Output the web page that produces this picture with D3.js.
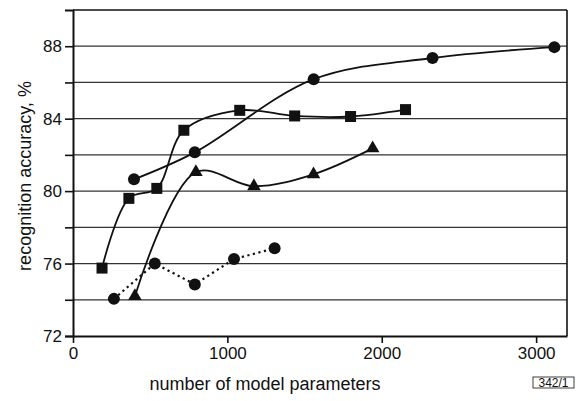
<!DOCTYPE html>
<html>
<head>
<meta charset="utf-8">
<script src="https://cdn.jsdelivr.net/npm/d3@7"></script>
<style>
  body { margin: 0; background: #fff; }
  text { font-family: "Liberation Sans", Arial, sans-serif; fill: #111; }
</style>
</head>
<body>
<div id="chart"></div>
<script>
// Data
const circleX = [395, 789, 1559, 2329, 3118];
const circleY = [80.65, 82.14, 86.18, 87.35, 87.95];

const squareX = [188, 362, 543, 718, 1080, 1436, 1798, 2154];
const squareY = [75.75, 79.6, 80.15, 83.36, 84.46, 84.15, 84.12, 84.5];

const triangleX = [401, 796, 1172, 1558, 1941];
const triangleY = [74.2, 81.05, 80.27, 80.93, 82.36];

const dottedX = [265, 530, 789, 1043, 1306];
const dottedY = [74.05, 76.0, 74.85, 76.25, 76.84];

const xTicks = [0, 1000, 2000, 3000];
const yTicks = [72, 74, 76, 78, 80, 82, 84, 86, 88];
const yLabels = [72, 76, 80, 84, 88];

const W = 578, H = 401;
const margin = { top: 10, right: 11, bottom: 65, left: 73 };
const width = W - margin.left - margin.right;
const height = H - margin.top - margin.bottom;

const svg = d3.select("#chart").append("svg")
  .attr("width", W)
  .attr("height", H);

const g = svg.append("g")
  .attr("transform", `translate(${margin.left},${margin.top})`);

const x = d3.scaleLinear().domain([0, 3200]).range([0, width]);
const y = d3.scaleLinear().domain([72, 90]).range([height, 0]);

// Gridlines
g.selectAll(".grid")
  .data(yTicks.filter(d => d > 72))
  .enter().append("line")
  .attr("x1", 0)
  .attr("x2", width)
  .attr("y1", d => y(d))
  .attr("y2", d => y(d))
  .attr("stroke", "#333")
  .attr("stroke-width", 1.2);

// Frame (top and right)
g.append("line").attr("x1", 0).attr("x2", width).attr("y1", 0).attr("y2", 0)
  .attr("stroke", "#111").attr("stroke-width", 1.6);
g.append("line").attr("x1", width).attr("x2", width).attr("y1", 0).attr("y2", height)
  .attr("stroke", "#111").attr("stroke-width", 1.6);

// Axes
const yAxis = g.append("g")
  .call(d3.axisLeft(y).tickValues(yTicks).tickSize(8)
    .tickFormat(d => yLabels.includes(d) ? d : ""));
yAxis.select(".domain").attr("stroke", "#111").attr("stroke-width", 2);
yAxis.selectAll(".tick line").attr("stroke", "#111").attr("stroke-width", 1.6);
yAxis.selectAll("text").style("font-size", "17px").attr("x", -11);

const xAxis = g.append("g")
  .attr("transform", `translate(0,${height})`)
  .call(d3.axisBottom(x).tickValues(xTicks).tickSize(7).tickSizeOuter(0)
    .tickFormat(d3.format("d")));
xAxis.select(".domain").attr("stroke", "#111").attr("stroke-width", 2);
xAxis.selectAll(".tick line").attr("stroke", "#111").attr("stroke-width", 1.6);
xAxis.selectAll("text").style("font-size", "17px").attr("y", 11);

// Axis titles
svg.append("text")
  .attr("text-anchor", "middle")
  .attr("transform", `translate(31,176) rotate(-90)`)
  .style("font-size", "18px")
  .text("recognition accuracy, %");

svg.append("text")
  .attr("text-anchor", "middle")
  .attr("x", 265)
  .attr("y", 390)
  .style("font-size", "18px")
  .text("number of model parameters");

// Small figure id
const idG = svg.append("g").attr("transform", "translate(533,377)");
idG.append("rect").attr("width", 41).attr("height", 11)
  .attr("fill", "none").attr("stroke", "#111").attr("stroke-width", 0.8);
idG.append("text").attr("x", 20.5).attr("y", 9.8).attr("text-anchor", "middle")
  .style("font-size", "12px").text("342/1");

const zip = (xs, ys) => xs.map((v, i) => ({ x: v, y: ys[i] }));

const smooth = d3.line().x(d => x(d.x)).y(d => y(d.y)).curve(d3.curveCatmullRom.alpha(0.5));
const straight = d3.line().x(d => x(d.x)).y(d => y(d.y));

const circles = zip(circleX, circleY);
const squares = zip(squareX, squareY);
const triangles = zip(triangleX, triangleY);
const dotted = zip(dottedX, dottedY);

g.append("path").attr("d", smooth(circles))
  .attr("fill", "none").attr("stroke", "#111").attr("stroke-width", 1.8);
g.append("path").attr("d", smooth(squares))
  .attr("fill", "none").attr("stroke", "#111").attr("stroke-width", 1.8);
g.append("path").attr("d", smooth(triangles))
  .attr("fill", "none").attr("stroke", "#111").attr("stroke-width", 1.8);
g.append("path").attr("d", straight(dotted))
  .attr("fill", "none").attr("stroke", "#111").attr("stroke-width", 2.2)
  .attr("stroke-dasharray", "2.2,3.5");

// Markers
g.selectAll(".circ")
  .data(circles.concat(dotted))
  .enter().append("circle")
  .attr("cx", d => x(d.x))
  .attr("cy", d => y(d.y))
  .attr("r", 6)
  .attr("fill", "#111");

g.selectAll(".sq")
  .data(squares)
  .enter().append("rect")
  .attr("x", d => x(d.x) - 5.5)
  .attr("y", d => y(d.y) - 5.5)
  .attr("width", 11)
  .attr("height", 11)
  .attr("fill", "#111");

const tri = d3.symbol().type(d3.symbolTriangle).size(80);
g.selectAll(".tri")
  .data(triangles)
  .enter().append("path")
  .attr("transform", d => `translate(${x(d.x)},${y(d.y)})`)
  .attr("d", tri)
  .attr("fill", "#111");
</script>
</body>
</html>
